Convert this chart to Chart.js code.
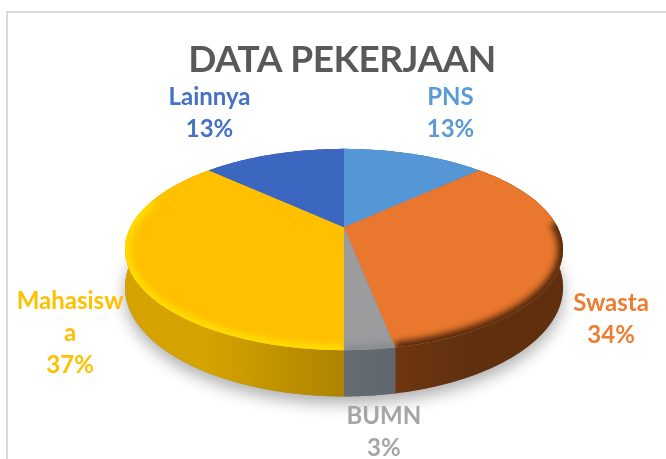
<!DOCTYPE html>
<html>
<head>
<meta charset="utf-8">
<script src="https://cdn.jsdelivr.net/npm/chart.js@4"></script>
<style>
  html, body { margin: 0; padding: 0; background: #fff; }
  #wrap { position: absolute; left: 0; top: 0; width: 666px; height: 459px; overflow: hidden; }
  canvas { display: block; filter: blur(0.5px); }
</style>
</head>
<body>
<div id="wrap"><canvas id="PieChart" width="666" height="459"></canvas></div>
<script>
const categories = ["PNS", "Swasta", "BUMN", "Mahasiswa", "Lainnya"];
const values = [13, 34, 3, 37, 13];
const labelLines = [["PNS"], ["Swasta"], ["BUMN"], ["Mahasisw", "a"], ["Lainnya"]];

const topColors = ["#5596d6", "#e9772e", "#9a9c9e", "#ffc000", "#3c67c0"];
const textColors = ["#5b9bd5", "#ed7d31", "#a5a5a5", "#ffc000", "#4472c4"];
const wallLeft = ["#3a6a96", "#6f3610", "#666c72", "#d6a200", "#2c4f8a"];
const wallRight = ["#3a6a96", "#5f2f0e", "#5f666e", "#ad8300", "#2c4f8a"];
const rimColors = ["#5596d6", "#52280a", "#8a8d90", "#ffdc00", "#3f69c2"];
const labelOffsets = [[36, -41], [49, 60], [14, 83], [-59, 64], [-64, -41]];

// tilt of the pie, the far side is squeezed by the perspective
const perspective = 0.2217;
const squashX = 1.475;
const squashY = 0.661;
const wallDepth = 36;
const pieShiftX = 2;

function project(arc, angle, r) {
    // chart angles start at -PI/2 (top of the pie)
    let a = angle + Math.PI / 2;
    let u = Math.sin(a) * r;
    let v = -Math.cos(a) * r;
    let w = 1 - perspective * v;
    let R = arc.outerRadius;
    return {
        x: arc.x + pieShiftX + u * R * squashX / w,
        y: arc.y + v * R * squashY / w,
        w: w
    };
}

function traceRim(ctx, arc, from, to, r, dropped, reverse) {
    let steps = Math.max(4, Math.ceil((to - from) * 60));
    for (let i = 0; i <= steps; i++) {
        let t = reverse ? 1 - i / steps : i / steps;
        let p = project(arc, from + (to - from) * t, r);
        ctx.lineTo(p.x, p.y + (dropped ? wallDepth / p.w : 0));
    }
}

const tiltedPie = {
    id: "tiltedPie",
    beforeDraw(chart) {
        chart.ctx.letterSpacing = "-0.5px";
    },
    beforeDatasetsDraw(chart) {
        let ctx = chart.ctx;
        let arcs = chart.getDatasetMeta(0).data;
        ctx.save();

        // soft shadow under the whole disc
        ctx.save();
        ctx.shadowColor = "rgba(0,0,0,0.32)";
        ctx.shadowBlur = 16;
        ctx.shadowOffsetY = 7;
        ctx.fillStyle = "#888";
        ctx.beginPath();
        traceRim(ctx, arcs[0], -Math.PI / 2, Math.PI * 1.5, 1, true, false);
        ctx.closePath();
        ctx.fill();
        ctx.restore();

        // side walls
        arcs.forEach((arc, i) => {
            let a = project(arc, arc.startAngle, 1);
            let b = project(arc, arc.endAngle, 1);
            let grad = ctx.createLinearGradient(Math.min(a.x, b.x), 0, Math.max(a.x, b.x), 0);
            grad.addColorStop(0, wallLeft[i]);
            grad.addColorStop(1, wallRight[i]);
            ctx.fillStyle = grad;
            ctx.beginPath();
            traceRim(ctx, arc, arc.startAngle, arc.endAngle, 1, false, false);
            traceRim(ctx, arc, arc.startAngle, arc.endAngle, 1, true, true);
            ctx.closePath();
            ctx.fill();
        });

        // top faces
        arcs.forEach((arc, i) => {
            ctx.fillStyle = topColors[i];
            ctx.beginPath();
            ctx.moveTo(arc.x + pieShiftX, arc.y);
            traceRim(ctx, arc, arc.startAngle, arc.endAngle, 1, false, false);
            ctx.closePath();
            ctx.fill();

            // rounded bevel on the near edge only
            ctx.save();
            ctx.clip();
            ctx.filter = "blur(3px)";
            ctx.strokeStyle = rimColors[i];
            ctx.lineWidth = 11;
            let from = Math.max(arc.startAngle, -0.05);
            let to = Math.min(arc.endAngle, Math.PI + 0.3);
            if (to > from) {
                ctx.beginPath();
                traceRim(ctx, arc, from, to, 1, false, false);
                ctx.stroke();
            }
            ctx.restore();
        });

        ctx.restore();
        return false;
    },
    afterDraw(chart) {
        let ctx = chart.ctx;
        let arcs = chart.getDatasetMeta(0).data;
        ctx.save();
        ctx.letterSpacing = "0px";
        ctx.font = "bold 24px Lato";
        ctx.textAlign = "center";
        ctx.textBaseline = "middle";
        arcs.forEach((arc, i) => {
            let mid = project(arc, (arc.startAngle + arc.endAngle) / 2, 1);
            let lines = labelLines[i].concat([values[i] + "%"]);
            let x = mid.x + labelOffsets[i][0];
            let y = mid.y + labelOffsets[i][1] - (lines.length - 1) * 16;
            ctx.fillStyle = textColors[i];
            lines.forEach((line, n) => ctx.fillText(line, x, y + n * 32));
        });

        // chart frame, open on the right and at the bottom
        ctx.strokeStyle = "#d9d9d9";
        ctx.lineWidth = 2;
        ctx.beginPath();
        ctx.moveTo(7, 459);
        ctx.lineTo(7, 12);
        ctx.lineTo(666, 12);
        ctx.stroke();
        ctx.restore();
    }
};

let pieChart = new Chart(document.getElementById("PieChart").getContext("2d"), {
    type: "pie",
    data: {
        labels: categories,
        datasets: [{
            label: "Data Pekerjaan",
            borderWidth: 0,
            backgroundColor: topColors,
            data: values
        }]
    },
    options: {
        responsive: false,
        animation: false,
        layout: { padding: { left: 18, right: 0, top: 38, bottom: 87 } },
        plugins: {
            legend: { display: false },
            tooltip: { enabled: false },
            title: {
                display: true,
                text: "DATA PEKERJAAN",
                color: "#595959",
                font: { family: "Lato", size: 37, weight: "bold" },
                padding: { top: 0, bottom: 0 }
            }
        }
    },
    plugins: [tiltedPie]
});
</script>
</body>
</html>
